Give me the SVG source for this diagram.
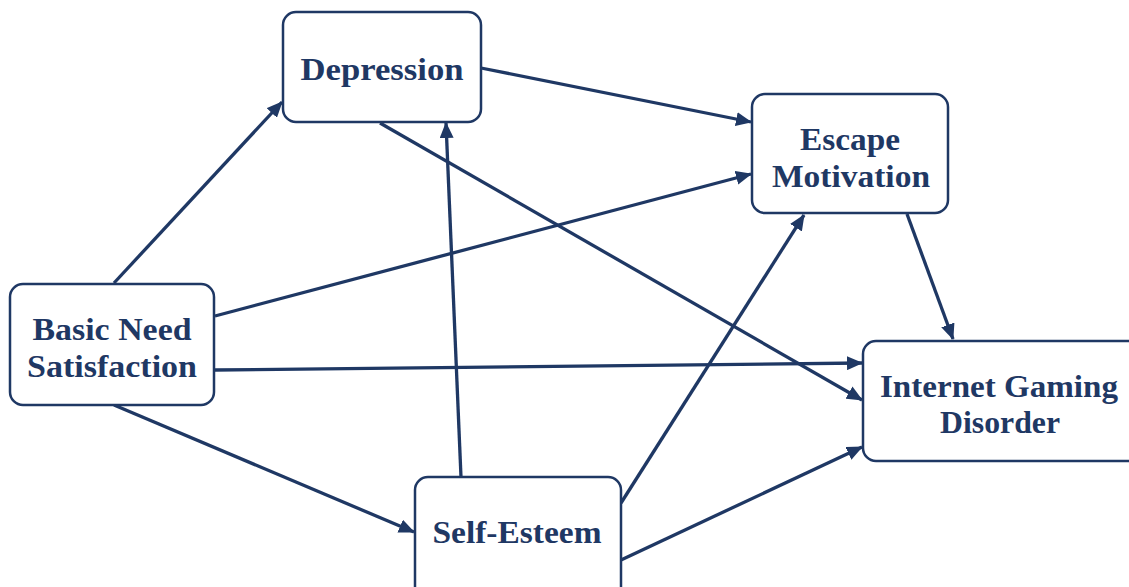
<svg xmlns="http://www.w3.org/2000/svg" width="1129" height="587" viewBox="0 0 1129 587">
<style>
.box{fill:#fff;stroke:#1f3864;stroke-width:2.5}
.lbl{font-family:"Liberation Serif","Times New Roman",serif;font-weight:bold;font-size:32px;fill:#1f3864;text-anchor:middle}
.edge{stroke:#1f3864;stroke-width:3.3;fill:none;marker-end:url(#ah)}
</style>
<defs>
<marker id="ah" markerUnits="userSpaceOnUse" markerWidth="16" markerHeight="14" refX="15" refY="7" orient="auto">
<path d="M0,0 L16,7 L0,14 z" fill="#1f3864"/>
</marker>
</defs>
<rect width="1129" height="587" fill="#fff"/>
<g id="connectors">
<line class="edge" x1="114" y1="283" x2="282" y2="102"/>
<line class="edge" x1="215" y1="316" x2="751" y2="174"/>
<line class="edge" x1="215" y1="370" x2="862" y2="363"/>
<line class="edge" x1="114" y1="405" x2="414" y2="532"/>
<line class="edge" x1="481" y1="68" x2="751" y2="122"/>
<line class="edge" x1="380" y1="123" x2="862" y2="400"/>
<line class="edge" x1="461" y1="477" x2="446" y2="123"/>
<line class="edge" x1="621" y1="503" x2="804" y2="215"/>
<line class="edge" x1="621" y1="560" x2="862" y2="447"/>
<line class="edge" x1="907" y1="214" x2="953" y2="339"/>
</g>
<g id="depression">
<rect class="box" x="283" y="12" width="198" height="110" rx="13"/>
<text class="lbl" x="382" y="80" textLength="163" lengthAdjust="spacingAndGlyphs">Depression</text>
</g>
<g id="basic-need-satisfaction">
<rect class="box" x="10" y="284" width="204" height="121" rx="13"/>
<text class="lbl" x="112" y="340" textLength="159" lengthAdjust="spacingAndGlyphs">Basic Need</text>
<text class="lbl" x="112" y="377" textLength="170" lengthAdjust="spacingAndGlyphs">Satisfaction</text>
</g>
<g id="escape-motivation">
<rect class="box" x="752" y="94" width="196" height="119" rx="13"/>
<text class="lbl" x="850" y="150" textLength="100" lengthAdjust="spacingAndGlyphs">Escape</text>
<text class="lbl" x="851" y="187" textLength="158" lengthAdjust="spacingAndGlyphs">Motivation</text>
</g>
<g id="internet-gaming-disorder">
<rect class="box" x="863" y="341" width="280" height="120" rx="13"/>
<text class="lbl" x="999" y="397" textLength="238" lengthAdjust="spacingAndGlyphs">Internet Gaming</text>
<text class="lbl" x="1000" y="433" textLength="120" lengthAdjust="spacingAndGlyphs">Disorder</text>
</g>
<g id="self-esteem">
<rect class="box" x="415" y="477" width="206" height="130" rx="13"/>
<text class="lbl" x="517" y="543" textLength="169" lengthAdjust="spacingAndGlyphs">Self-Esteem</text>
</g>
</svg>
